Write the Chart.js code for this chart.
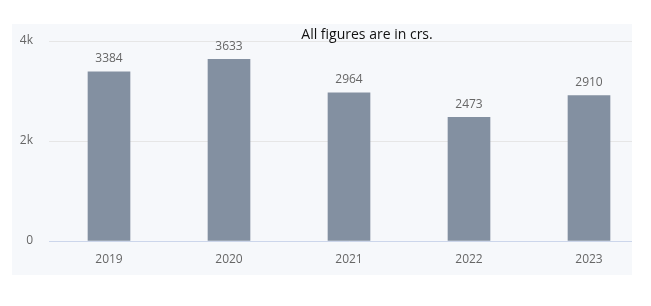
<!DOCTYPE html>
<html>
<head>
<meta charset="utf-8">
<script src="https://cdn.jsdelivr.net/npm/chart.js@4.4.0/dist/chart.umd.min.js"></script>
<style>
  html, body { margin: 0; padding: 0; background: #ffffff; }
  #wrap { position: relative; width: 651px; height: 306px; }
</style>
</head>
<body>
<div id="wrap"><canvas id="barChart" width="651" height="306"></canvas></div>
<script>
const years = ['2019', '2020', '2021', '2022', '2023'];
const amounts = [3384, 3633, 2964, 2473, 2910];
const yTicks = [0, 2000, 4000];
const yTickLabels = ['0', '2k', '4k'];
const chartTitle = 'All figures are in crs.';

const panelPlugin = {
    id: 'panel',
    beforeDraw(chart) {
        const c = chart.ctx;
        c.save();
        c.fillStyle = '#f6f8fb';
        c.fillRect(12, 24, 620, 251);
        c.restore();
    },
    afterDraw(chart) {
        const c = chart.ctx;
        c.save();
        // panel is cut at its right edge
        c.fillStyle = '#ffffff';
        c.fillRect(632, 0, 19, 306);
        // value labels above bars
        c.font = '12px "Open Sans"';
        c.fillStyle = '#666666';
        c.textAlign = 'center';
        c.textBaseline = 'middle';
        chart.getDatasetMeta(0).data.forEach(function(bar, i) {
            c.fillText(String(amounts[i]), bar.x, bar.y - 13);
        });
        // title
        c.font = '14px "Open Sans"';
        c.fillStyle = '#111111';
        c.fillText(chartTitle, 367, 35);
        c.restore();
    }
};

const ctx = document.getElementById('barChart').getContext('2d');
const barChart = new Chart(ctx, {
    type: 'bar',
    data: {
        labels: years,
        datasets: [{
            data: amounts,
            backgroundColor: '#8390a1',
            barThickness: 42
        }]
    },
    options: {
        responsive: false,
        animation: false,
        layout: { padding: { left: 0, top: 41, right: 2, bottom: 0 } },
        plugins: {
            legend: { display: false },
            tooltip: { enabled: false }
        },
        scales: {
            x: {
                grid: { display: false, drawTicks: false },
                border: { display: true, color: '#ccd6eb' },
                ticks: {
                    padding: 11,
                    color: '#666666',
                    font: { family: 'Open Sans', size: 12 }
                },
                afterFit(scale) { scale.height = 65; }
            },
            y: {
                min: 0,
                max: 4000,
                afterBuildTicks(scale) {
                    scale.ticks = yTicks.map(v => ({ value: v }));
                },
                grid: {
                    drawTicks: false,
                    color: '#e6e6e6'
                },
                border: { display: false },
                ticks: {
                    padding: 16,
                    color: '#666666',
                    font: { family: 'Open Sans', size: 12 },
                    callback: function(value) {
                        return yTickLabels[yTicks.indexOf(value)];
                    }
                },
                afterFit(scale) { scale.width = 49; }
            }
        }
    },
    plugins: [panelPlugin]
});
</script>
</body>
</html>
